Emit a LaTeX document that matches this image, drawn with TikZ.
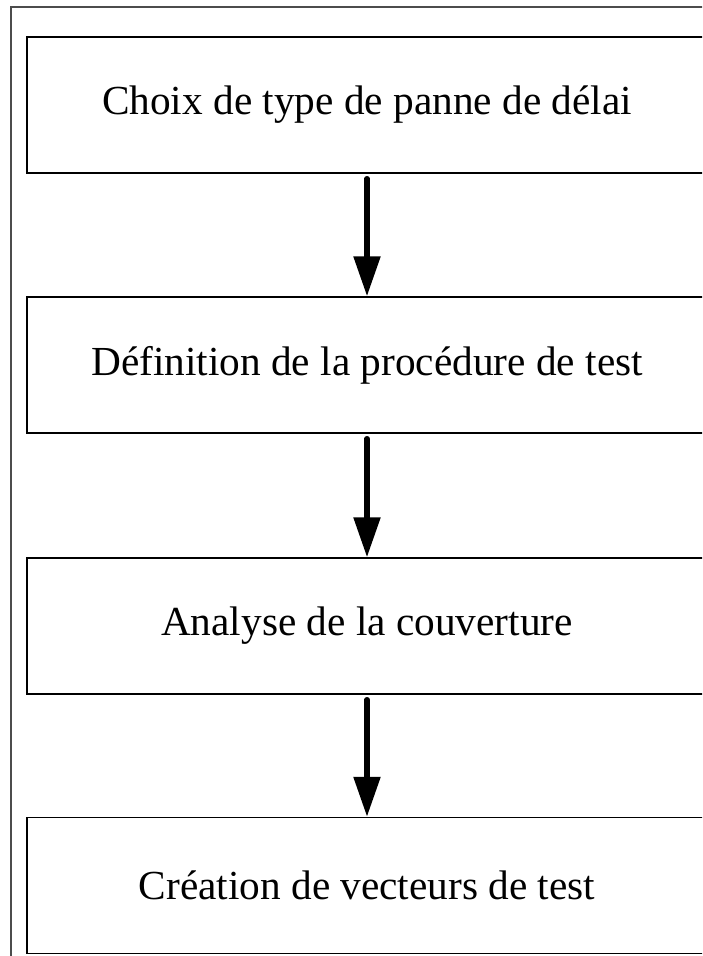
\documentclass[tikz,border=0pt]{standalone}
\usepackage{fontspec}
\setmainfont{Liberation Serif}
\usetikzlibrary{arrows.meta}
\tikzset{
  etape/.style={draw,line width=1.5pt,minimum width=680pt,minimum height=136pt,inner sep=0pt,
    font=\fontsize{41.3}{50}\selectfont},
  fleche/.style={line width=5.5pt,line cap=round,shorten <=5pt,
    -{Triangle[length=40pt,width=26pt]}},
}
\begin{document}
\begin{tikzpicture}[x=1pt,y=-1pt]
\useasboundingbox (0,0) rectangle (702,956);
\clip (0,0) rectangle (702,956);
\fill[white] (0,0) rectangle (702,956);
% cadre exterieur
\draw[line width=1.5pt,black!70] (11,7) rectangle (730,990);
\node[etape] (choix) at (367,105) {Choix de type de panne de délai};
\node[etape] (proc) at (367,365) {Définition de la procédure de test};
\node[etape] (couv) at (367,626) {Analyse de la couverture};
\node[etape] (vect) at (367,885.5) {Création de vecteurs de test};
\draw[fleche] (choix) -- (proc);
\draw[fleche] (proc) -- (couv);
\draw[fleche] (couv) -- (vect);
\end{tikzpicture}
\end{document}
